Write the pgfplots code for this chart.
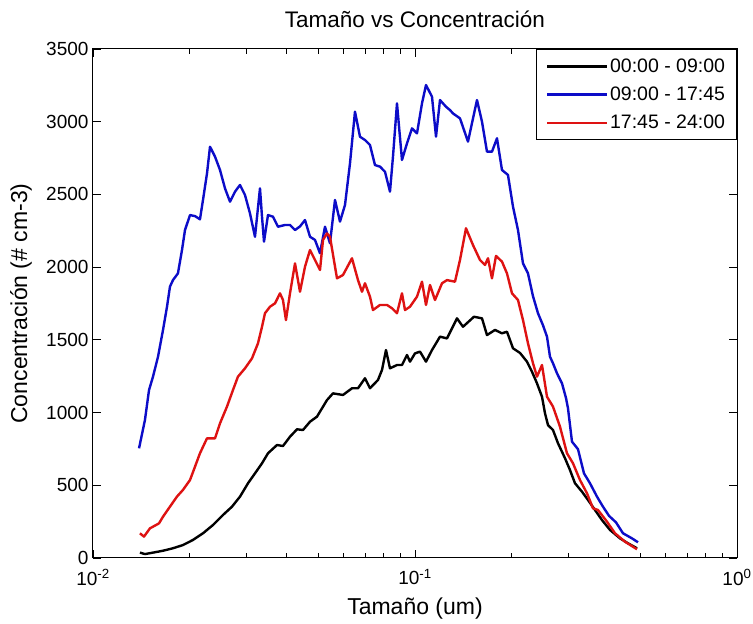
\documentclass[border=0pt]{standalone}
\usepackage{pgfplots}
\pgfplotsset{compat=1.18}
\usepackage{fontspec}
\setmainfont{Liberation Sans}

\definecolor{serieA}{RGB}{0,0,0}
\definecolor{serieB}{RGB}{12,12,200}
\definecolor{serieC}{RGB}{222,18,18}

\begin{document}
\begin{tikzpicture}
\useasboundingbox (-93pt,-66pt) rectangle (660pt,558pt);
\begin{axis}[
  scale only axis,
  width=644pt, height=509pt,
  xmode=log,
  xmin=0.01, xmax=1,
  ymin=0, ymax=3500,
  xtick={0.01,0.1,1},
  xticklabels={10\textsuperscript{-2},10\textsuperscript{-1},10\textsuperscript{0}},
  minor xtick={0.02,0.03,0.04,0.05,0.06,0.07,0.08,0.09,0.2,0.3,0.4,0.5,0.6,0.7,0.8,0.9},
  ytick={0,500,1000,1500,2000,2500,3000,3500},
  /pgf/number format/assume math mode=true,
  /pgf/number format/1000 sep={},
  tick align=inside,
  major tick length=8pt,
  minor tick length=5pt,
  tick style={line width=0.9pt, black},
  axis line style={line width=1pt},
  ticklabel style={font=\fontsize{19}{22}\selectfont},
  yticklabel style={xshift=-1pt},
  xticklabel style={yshift=-8pt},
  title={Tamaño vs Concentración},
  xlabel={Tamaño (um)},
  ylabel={Concentración (\# cm-3)},
  title style={at={(axis description cs:0.5,1)}, anchor=center, yshift=24pt,
    font=\fontsize{22.5}{26}\selectfont},
  every axis x label/.style={at={([yshift=-51pt]axis description cs:0.5,0)},
    anchor=center, font=\fontsize{23}{26}\selectfont},
  every axis y label/.style={at={([xshift=-72pt]axis description cs:0,0.5)},
    rotate=90, anchor=center, font=\fontsize{23}{26}\selectfont},
  legend cell align=left,
  legend image code/.code={\draw[#1] (0pt,0pt) -- (60pt,0pt);},
  legend style={at={(rel axis cs:1,1)}, anchor=north east,
    draw=black, line width=1pt, fill=white,
    font=\fontsize{19.5}{22}\selectfont,
    inner xsep=10pt, inner ysep=8pt, row sep=10pt,
    nodes={inner sep=1.5pt}},
  every axis plot/.append style={line width=2.4pt, line join=round},
]
% 00:00 - 09:00
\addplot[serieA] table {
0.01399 37
0.01450 27
0.01536 37
0.01650 50
0.01772 67
0.01903 89
0.02044 124
0.02196 170
0.02359 227
0.02534 296
0.02702 353
0.02861 422
0.03030 514
0.03185 582
0.03349 651
0.03495 720
0.03728 777
0.03891 770
0.04091 834
0.04301 885
0.04489 880
0.04720 937
0.04962 972
0.05330 1086
0.05563 1132
0.05976 1121
0.06373 1167
0.06653 1167
0.06994 1236
0.07249 1167
0.07675 1224
0.07898 1293
0.08127 1430
0.08363 1304
0.08792 1327
0.09112 1327
0.09444 1396
0.09649 1350
0.10000 1407
0.10364 1419
0.10819 1350
0.11293 1430
0.11958 1522
0.12572 1510
0.13503 1648
0.14095 1590
0.15249 1659
0.16147 1648
0.16734 1533
0.17720 1568
0.18629 1545
0.19307 1556
0.20153 1442
0.21188 1410
0.22275 1350
0.23086 1281
0.23927 1201
0.24798 1109
0.25336 995
0.25885 914
0.26827 880
0.27804 789
0.29230 686
0.30294 605
0.31398 514
0.33010 456
0.34456 399
0.36226 330
0.38085 261
0.40327 193
0.43316 135
0.45866 101
0.48915 67
};
\addlegendentry{00:00 - 09:00}
% 09:00 - 17:45
\addplot[serieB] table {
0.01390 754
0.01450 949
0.01493 1155
0.01536 1247
0.01592 1384
0.01650 1568
0.01698 1728
0.01734 1866
0.01772 1911
0.01836 1957
0.01890 2118
0.01931 2255
0.02001 2358
0.02074 2351
0.02149 2329
0.02196 2462
0.02260 2645
0.02309 2828
0.02393 2760
0.02480 2668
0.02570 2542
0.02664 2450
0.02761 2519
0.02861 2565
0.02965 2496
0.03073 2370
0.03185 2209
0.03301 2542
0.03349 2347
0.03397 2175
0.03495 2358
0.03623 2347
0.03754 2278
0.03947 2290
0.04091 2290
0.04240 2255
0.04394 2280
0.04554 2324
0.04720 2209
0.04892 2187
0.05070 2095
0.05254 2278
0.05445 2164
0.05644 2462
0.05849 2313
0.06062 2427
0.06283 2714
0.06511 3069
0.06748 2897
0.06994 2874
0.07249 2840
0.07512 2702
0.07786 2691
0.08069 2656
0.08363 2519
0.08544 2760
0.08792 3126
0.09112 2737
0.09444 2851
0.09788 2954
0.10144 2920
0.10513 3126
0.10819 3252
0.11293 3172
0.11621 2897
0.11958 3149
0.12482 3103
0.12844 3080
0.13122 3057
0.13796 3023
0.14608 2863
0.15579 3149
0.16147 3000
0.16734 2794
0.17343 2794
0.17975 2886
0.18629 2668
0.19446 2634
0.20153 2416
0.20887 2255
0.21647 2026
0.22435 1957
0.23252 1800
0.24099 1683
0.24976 1600
0.25701 1522
0.26258 1384
0.26827 1339
0.27606 1270
0.28611 1201
0.29440 1100
0.29864 1030
0.30731 800
0.32079 748
0.33485 582
0.34953 514
0.36747 422
0.38358 353
0.40040 290
0.42095 245
0.44255 170
0.47198 135
0.49267 108
};
\addlegendentry{09:00 - 17:45}
% 17:45 - 24:00
\addplot[serieC] table {
0.01399 170
0.01440 147
0.01503 204
0.01603 238
0.01650 284
0.01734 353
0.01823 422
0.01903 468
0.02001 536
0.02074 628
0.02149 720
0.02260 823
0.02393 823
0.02480 926
0.02607 1041
0.02721 1155
0.02820 1247
0.02965 1304
0.03118 1373
0.03254 1476
0.03349 1590
0.03421 1683
0.03546 1728
0.03675 1751
0.03809 1820
0.03891 1774
0.03975 1636
0.04091 1820
0.04240 2026
0.04394 1831
0.04554 2003
0.04720 2118
0.04892 2049
0.05070 1980
0.05180 2187
0.05330 2232
0.05445 2209
0.05725 1923
0.05976 1946
0.06373 2061
0.06653 1911
0.06846 1831
0.06994 1889
0.07249 1797
0.07406 1705
0.07786 1740
0.08185 1740
0.08484 1717
0.08792 1683
0.09112 1820
0.09310 1705
0.09649 1728
0.10144 1797
0.10513 1900
0.10819 1740
0.11133 1877
0.11538 1774
0.12130 1889
0.12572 1911
0.13311 1900
0.13796 2049
0.14401 2267
0.15140 2152
0.15917 2049
0.16496 2015
0.16854 2061
0.17343 1923
0.17847 2077
0.18629 2038
0.19307 1957
0.20011 1820
0.20887 1774
0.21647 1636
0.22435 1476
0.23252 1339
0.23927 1247
0.24798 1327
0.25701 1109
0.26827 1041
0.28204 903
0.29651 720
0.30952 651
0.32541 536
0.34211 445
0.35711 342
0.37011 330
0.39471 250
0.41795 170
0.44893 112
0.48915 60
};
\addlegendentry{17:45 - 24:00}
\end{axis}
\end{tikzpicture}
\end{document}
